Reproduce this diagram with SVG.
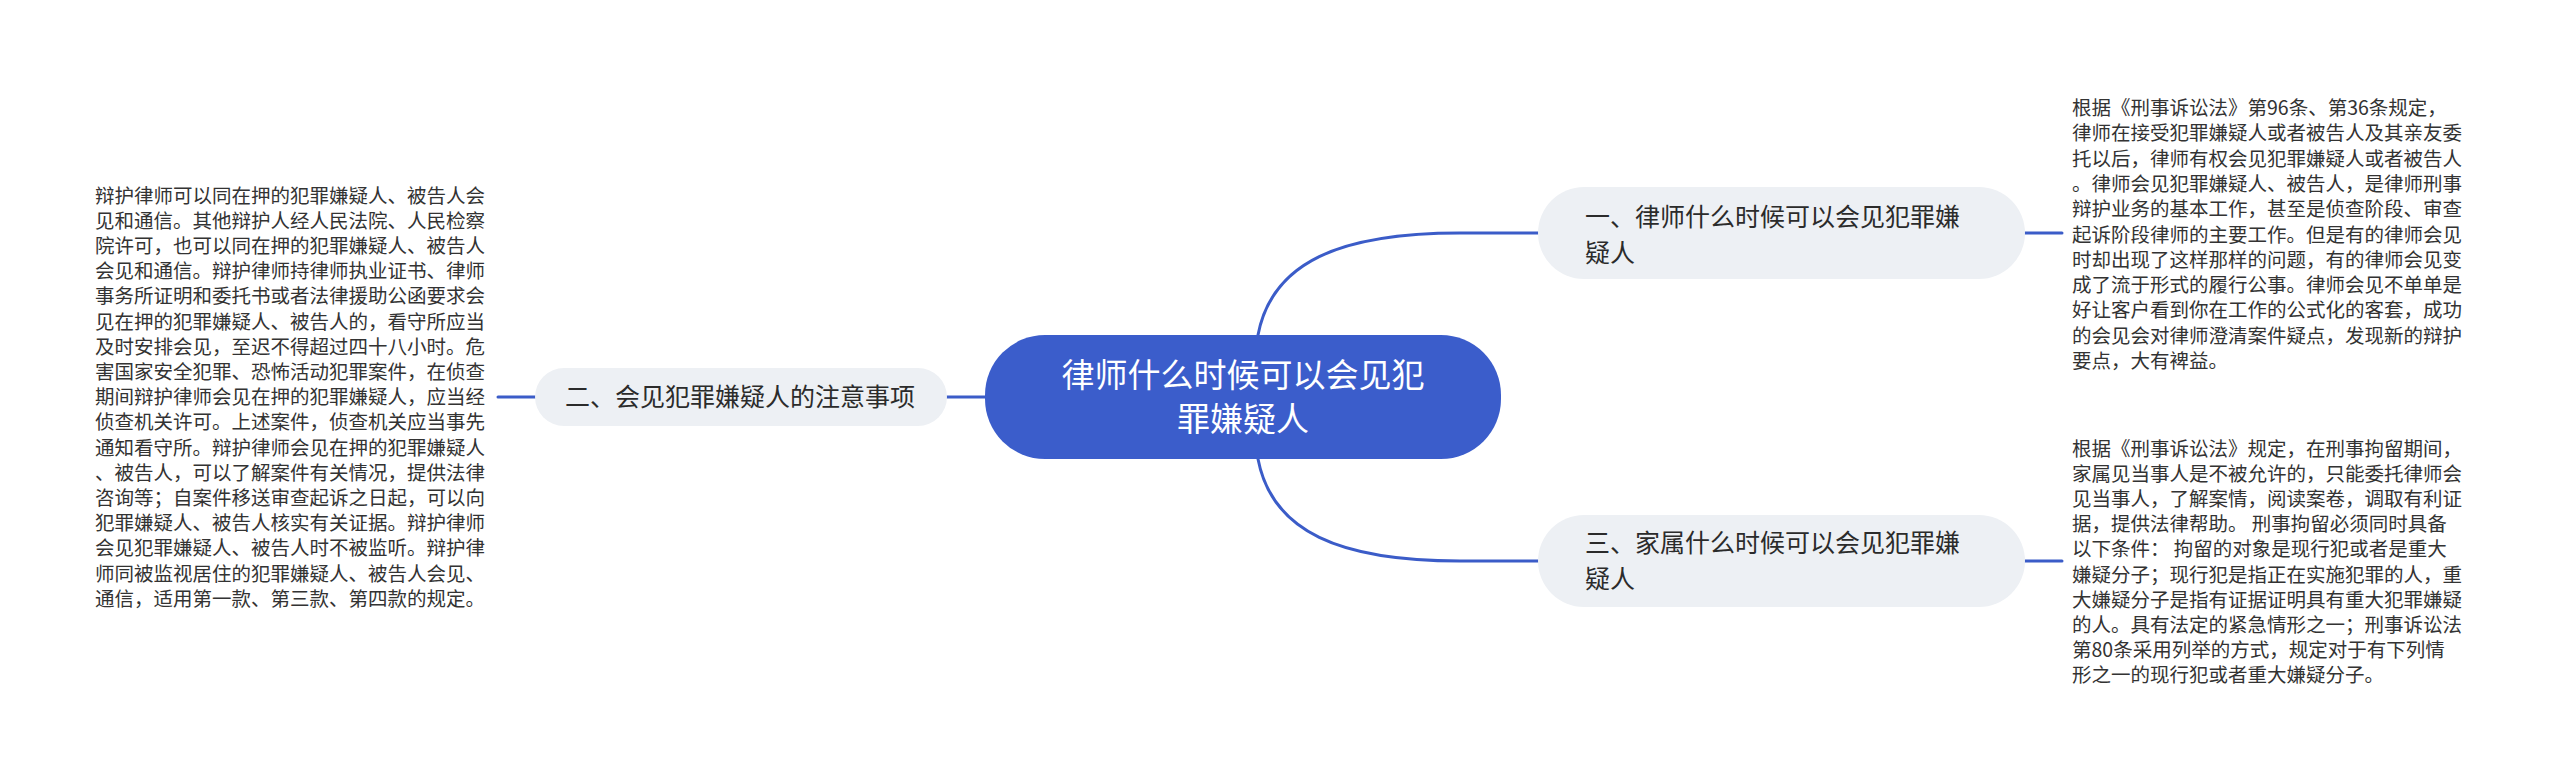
<svg xmlns="http://www.w3.org/2000/svg" width="2560" height="782" viewBox="0 0 2560 782">
<style>
.conn{fill:none;stroke:#3b5cc8;stroke-width:3;stroke-linecap:round}
.sub{fill:#edf0f4}
.subt{font-family:"Noto Sans CJK SC","Noto Sans",sans-serif;font-size:25px;fill:#2b2b2b}
.leaf{font-family:"Noto Sans CJK SC","Noto Sans",sans-serif;font-size:19.5px;fill:#333333}
.root{fill:#3b5dcb}
.roott{font-family:"Noto Sans CJK SC","Noto Sans",sans-serif;font-size:33px;fill:#ffffff;text-anchor:middle}
</style>
<rect width="2560" height="782" fill="#ffffff"/>
<g id="connectors">
<path class="conn" d="M1258,335 C1272,262 1340,233 1460,233 L1538,233"/>
<path class="conn" d="M1258,459 C1272,532 1340,561 1460,561 L1538,561"/>
<path class="conn" d="M985,397 L947,397"/>
<path class="conn" d="M535,397 L498,397"/>
<path class="conn" d="M2025,233 L2062,233"/>
<path class="conn" d="M2025,561 L2062,561"/>
</g>
<g id="root">
<rect class="root" x="985" y="335" width="516" height="124" rx="60"/>
<text class="roott"><tspan x="1243" y="387">律师什么时候可以会见犯</tspan><tspan x="1243" y="431">罪嫌疑人</tspan></text>
</g>
<g id="node1">
<rect class="sub" x="1538" y="187" width="487" height="92" rx="46"/>
<text class="subt"><tspan x="1585" y="226">一、律师什么时候可以会见犯罪嫌</tspan><tspan x="1585" y="262">疑人</tspan></text>
</g>
<g id="node2">
<rect class="sub" x="535" y="368" width="412" height="58" rx="29"/>
<text class="subt" x="565" y="406">二、会见犯罪嫌疑人的注意事项</text>
</g>
<g id="node3">
<rect class="sub" x="1538" y="515" width="487" height="92" rx="46"/>
<text class="subt"><tspan x="1585" y="552">三、家属什么时候可以会见犯罪嫌</tspan><tspan x="1585" y="588">疑人</tspan></text>
</g>
<g id="leaf1">
<text class="leaf">
<tspan x="2072" y="115">根据《刑事诉讼法》第96条、第36条规定，</tspan>
<tspan x="2072" y="140.3">律师在接受犯罪嫌疑人或者被告人及其亲友委</tspan>
<tspan x="2072" y="165.6">托以后，律师有权会见犯罪嫌疑人或者被告人</tspan>
<tspan x="2072" y="190.9">。律师会见犯罪嫌疑人、被告人，是律师刑事</tspan>
<tspan x="2072" y="216.2">辩护业务的基本工作，甚至是侦查阶段、审查</tspan>
<tspan x="2072" y="241.5">起诉阶段律师的主要工作。但是有的律师会见</tspan>
<tspan x="2072" y="266.8">时却出现了这样那样的问题，有的律师会见变</tspan>
<tspan x="2072" y="292.1">成了流于形式的履行公事。律师会见不单单是</tspan>
<tspan x="2072" y="317.4">好让客户看到你在工作的公式化的客套，成功</tspan>
<tspan x="2072" y="342.7">的会见会对律师澄清案件疑点，发现新的辩护</tspan>
<tspan x="2072" y="368">要点，大有裨益。</tspan>
</text>
</g>
<g id="leaf2">
<text class="leaf">
<tspan x="95" y="202.5">辩护律师可以同在押的犯罪嫌疑人、被告人会</tspan>
<tspan x="95" y="227.7">见和通信。其他辩护人经人民法院、人民检察</tspan>
<tspan x="95" y="252.9">院许可，也可以同在押的犯罪嫌疑人、被告人</tspan>
<tspan x="95" y="278.1">会见和通信。辩护律师持律师执业证书、律师</tspan>
<tspan x="95" y="303.3">事务所证明和委托书或者法律援助公函要求会</tspan>
<tspan x="95" y="328.5">见在押的犯罪嫌疑人、被告人的，看守所应当</tspan>
<tspan x="95" y="353.7">及时安排会见，至迟不得超过四十八小时。危</tspan>
<tspan x="95" y="378.9">害国家安全犯罪、恐怖活动犯罪案件，在侦查</tspan>
<tspan x="95" y="404.1">期间辩护律师会见在押的犯罪嫌疑人，应当经</tspan>
<tspan x="95" y="429.3">侦查机关许可。上述案件，侦查机关应当事先</tspan>
<tspan x="95" y="454.5">通知看守所。辩护律师会见在押的犯罪嫌疑人</tspan>
<tspan x="95" y="479.7">、被告人，可以了解案件有关情况，提供法律</tspan>
<tspan x="95" y="504.9">咨询等；自案件移送审查起诉之日起，可以向</tspan>
<tspan x="95" y="530.1">犯罪嫌疑人、被告人核实有关证据。辩护律师</tspan>
<tspan x="95" y="555.3">会见犯罪嫌疑人、被告人时不被监听。辩护律</tspan>
<tspan x="95" y="580.5">师同被监视居住的犯罪嫌疑人、被告人会见、</tspan>
<tspan x="95" y="605.7">通信，适用第一款、第三款、第四款的规定。</tspan>
</text>
</g>
<g id="leaf3">
<text class="leaf">
<tspan x="2072" y="455.5">根据《刑事诉讼法》规定，在刑事拘留期间，</tspan>
<tspan x="2072" y="480.7">家属见当事人是不被允许的，只能委托律师会</tspan>
<tspan x="2072" y="505.9">见当事人，了解案情，阅读案卷，调取有利证</tspan>
<tspan x="2072" y="531.1">据，提供法律帮助。 刑事拘留必须同时具备</tspan>
<tspan x="2072" y="556.3">以下条件： 拘留的对象是现行犯或者是重大</tspan>
<tspan x="2072" y="581.5">嫌疑分子；现行犯是指正在实施犯罪的人，重</tspan>
<tspan x="2072" y="606.7">大嫌疑分子是指有证据证明具有重大犯罪嫌疑</tspan>
<tspan x="2072" y="631.9">的人。具有法定的紧急情形之一；刑事诉讼法</tspan>
<tspan x="2072" y="657.1">第80条采用列举的方式，规定对于有下列情</tspan>
<tspan x="2072" y="682.3">形之一的现行犯或者重大嫌疑分子。</tspan>
</text>
</g>
</svg>
